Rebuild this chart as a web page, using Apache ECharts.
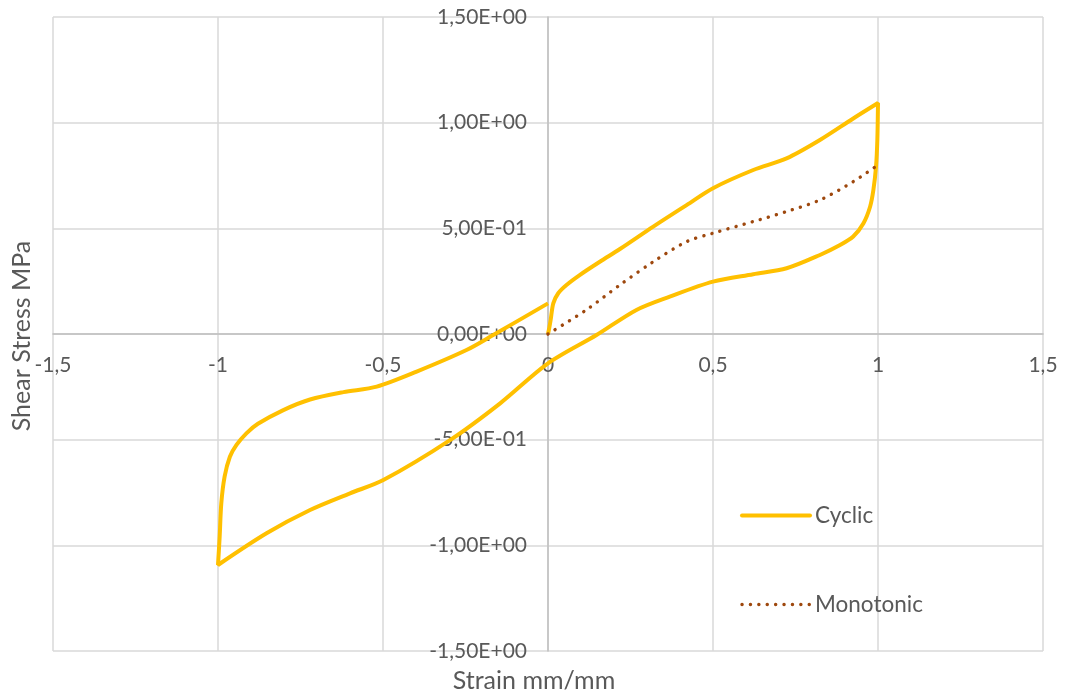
<!DOCTYPE html>
<html>
<head>
<meta charset="utf-8">
<script src="https://cdn.jsdelivr.net/npm/echarts@6/dist/echarts.min.js"></script>
<style>
  html, body { margin: 0; padding: 0; background: #ffffff; }
  #chart { width: 1067px; height: 698px; }
</style>
</head>
<body>
<div id="chart"></div>
<script>
// Hysteresis loop under cyclic shear, plus the monotonic curve
const cyclicStrain = [
  0, 0.004, 0.008, 0.016, 0.031, 0.056, 0.096, 0.157, 0.218, 0.319, 0.42, 0.5, 0.622, 0.723, 0.824, 0.925, 1.0,
  0.998, 0.994, 0.986, 0.976, 0.956, 0.925, 0.885, 0.824, 0.723, 0.622, 0.5, 0.369, 0.268, 0.147, 0,
  -0.145, -0.297, -0.499, -0.6, -0.721, -0.853, -1.0,
  -0.995, -0.99, -0.98, -0.964, -0.944, -0.914, -0.879, -0.802, -0.721, -0.62, -0.519, -0.398, -0.247, -0.166, 0
];
const cyclicStress = [
  0, 0.03, 0.066, 0.145, 0.193, 0.232, 0.279, 0.342, 0.402, 0.508, 0.61, 0.69, 0.776, 0.831, 0.918, 1.02, 1.093,
  0.918, 0.792, 0.681, 0.602, 0.524, 0.461, 0.421, 0.374, 0.311, 0.283, 0.248, 0.177, 0.114, -0.005, -0.139,
  -0.328, -0.502, -0.691, -0.754, -0.833, -0.943, -1.093,
  -0.96, -0.801, -0.675, -0.581, -0.525, -0.47, -0.425, -0.36, -0.31, -0.275, -0.249, -0.178, -0.076, -0.005, 0.145
];
const monoStrain = [0, 0.116, 0.218, 0.319, 0.42, 0.5, 0.622, 0.722, 0.824, 0.925, 1.0];
const monoStress = [0, 0.114, 0.232, 0.342, 0.437, 0.477, 0.532, 0.579, 0.634, 0.721, 0.8];

const seriesNames = ['Cyclic', 'Monotonic'];
const xTitle = 'Strain mm/mm';
const yTitle = 'Shear Stress MPa';

const pairs = (xs, ys) => xs.map((x, i) => [x, ys[i]]);

// Scientific label with decimal comma: 1,50E+00
function sciLabel(v) {
  const s = Number(v).toExponential(2);
  const parts = s.split('e');
  const mant = parts[0].replace('.', ',');
  let exp = parseInt(parts[1], 10);
  const sign = exp < 0 ? '-' : '+';
  exp = Math.abs(exp);
  return mant + 'E' + sign + (exp < 10 ? '0' + exp : '' + exp);
}
function decLabel(v) {
  return String(Math.round(v * 10) / 10).replace('.', ',');
}

const FONT = 'Lato, "Open Sans", sans-serif';
const TXT = '#595959';
const GRIDC = '#D9D9D9';
const AXISC = '#BFBFBF';
const CYC = '#FFC000';
const MONO = '#9E480E';

// plot box
const G = { left: 53, right: 24, top: 17, bottom: 47 };
const W = 1067, H = 698;
const plotW = W - G.left - G.right;
const plotH = H - G.top - G.bottom;
// the two axes cross at zero, in the middle of a symmetric range
const xAxisShift = -plotH / 2;
const yAxisShift = -plotW / 2;

const chart = echarts.init(document.getElementById('chart'), null, { renderer: 'canvas' });
chart.setOption({
  backgroundColor: '#ffffff',
  animation: false,
  textStyle: { fontFamily: FONT },
  grid: Object.assign({ containLabel: false, outerBoundsMode: 'none' }, G),
  xAxis: {
    type: 'value', min: -1.5, max: 1.5, interval: 0.5,
    position: 'bottom', offset: xAxisShift,
    axisLine: { onZero: false, lineStyle: { color: AXISC, width: 1.5 } },
    axisTick: { show: false },
    axisLabel: { color: TXT, fontSize: 21, fontFamily: FONT, margin: 21, formatter: decLabel },
    splitLine: { show: true, lineStyle: { color: GRIDC, width: 1.5 } }
  },
  yAxis: {
    type: 'value', min: -1.5, max: 1.5, interval: 0.5,
    position: 'left', offset: yAxisShift,
    axisLine: { onZero: false, lineStyle: { color: AXISC, width: 1.5 } },
    axisTick: { show: false },
    axisLabel: { color: TXT, fontSize: 21, fontFamily: FONT, margin: 21, formatter: sciLabel },
    splitLine: { show: true, lineStyle: { color: GRIDC, width: 1.5 } }
  },
  legend: {
    orient: 'vertical', left: 740, top: 504, padding: 0,
    itemWidth: 68, itemHeight: 22, itemGap: 66,
    itemStyle: { opacity: 0, color: 'rgba(0,0,0,0)', borderWidth: 0 },
    textStyle: { color: TXT, fontSize: 22.5, fontFamily: FONT },
    data: [
      { name: seriesNames[0], lineStyle: { width: 4, cap: 'round', color: CYC } },
      { name: seriesNames[1], lineStyle: { width: 3.4, color: MONO } }
    ]
  },
  series: [
    {
      name: seriesNames[0], type: 'line', smooth: 0.3, symbol: 'none',
      data: pairs(cyclicStrain, cyclicStress),
      lineStyle: { color: CYC, width: 4 },
      itemStyle: { color: CYC }, z: 3
    },
    {
      name: seriesNames[1], type: 'line', smooth: 0.3, symbol: 'none',
      data: pairs(monoStrain, monoStress),
      lineStyle: { color: MONO, width: 3.4, type: [0.1, 8.3], cap: 'round' },
      itemStyle: { color: MONO }, z: 4
    }
  ],
  graphic: [
    {
      type: 'text', x: 534, y: 681,
      style: { text: xTitle, fill: TXT, font: '25px ' + FONT, align: 'center', verticalAlign: 'middle' }
    },
    {
      type: 'text', x: 22, y: 336, rotation: Math.PI / 2,
      style: { text: yTitle, fill: TXT, font: '25px ' + FONT, align: 'center', verticalAlign: 'middle' }
    }
  ]
});
</script>
</body>
</html>
